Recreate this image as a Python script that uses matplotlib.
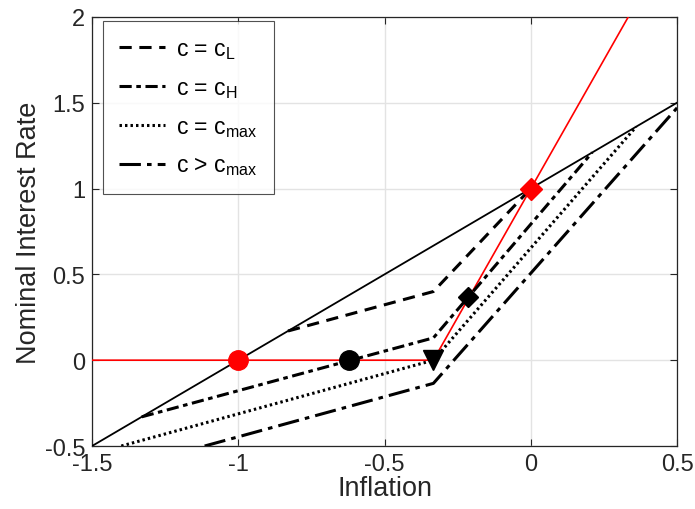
import matplotlib
matplotlib.use("Agg")
import matplotlib.pyplot as plt

plt.rcParams['font.family'] = ['Liberation Sans', 'DejaVu Sans']
plt.rcParams['mathtext.fontset'] = 'custom'
plt.rcParams['mathtext.rm'] = 'Liberation Sans'
plt.rcParams['mathtext.it'] = 'Liberation Sans'

# Data
solid_x = [-1.5, 0.5]
solid_y = [-0.5, 1.5]
red_x = [-1.5, -0.333, 0.4]
red_y = [0.0, 0.0, 2.2]
cL_x = [-0.83, -0.333, 0.0]
cL_y = [0.17, 0.40, 1.0]
cH_x = [-1.33, -0.333, 0.21]
cH_y = [-0.33, 0.13, 1.21]
cmax_x = [-1.40, -0.333, 0.36]
cmax_y = [-0.5, 0.0, 1.36]
cgt_x = [-1.115, -0.333, 0.5]
cgt_y = [-0.5, -0.135, 1.47]

xticks = [-1.5, -1, -0.5, 0, 0.5]
xticklabels = ['-1.5', '-1', '-0.5', '0', '0.5']
yticks = [-0.5, 0, 0.5, 1, 1.5, 2]
yticklabels = ['-0.5', '0', '0.5', '1', '1.5', '2']

fig = plt.figure(figsize=(6.95, 5.10), dpi=100)
ax = fig.add_axes([0.1324, 0.1235, 0.8418, 0.8415])

ax.plot(solid_x, solid_y, color='black', lw=1.3, zorder=3)
ax.plot(red_x, red_y, color='red', lw=1.2, zorder=3)
lL, = ax.plot(cL_x, cL_y, color='black', lw=2.2, linestyle=(0, (4, 2.5)), label='c = c$_\\mathregular{L}$', zorder=3)
lH, = ax.plot(cH_x, cH_y, color='black', lw=2.2, linestyle=(0, (4, 1.5, 1.5, 1.5)), label='c = c$_\\mathregular{H}$', zorder=3)
lM, = ax.plot(cmax_x, cmax_y, color='black', lw=2.2, linestyle=(0, (0.8, 1.0)), label='c = c$_\\mathregular{max}$', zorder=3)
lG, = ax.plot(cgt_x, cgt_y, color='black', lw=2.2, linestyle=(0, (7, 2, 1.5, 2)), label='c > c$_\\mathregular{max}$', zorder=3)

ax.plot([-1], [0], 'o', color='red', markersize=14, zorder=5)
ax.plot([-0.62], [0], 'o', color='black', markersize=14, zorder=5)
ax.plot([-0.333], [0], 'v', color='black', markersize=15, zorder=5)
ax.plot([-0.215], [0.37], 'D', color='black', markersize=10, zorder=5)
ax.plot([0], [1], 'D', color='red', markersize=11, zorder=5)

ax.set_xlim(-1.5, 0.5)
ax.set_ylim(-0.5, 2)
ax.set_xticks(xticks)
ax.set_xticklabels(xticklabels)
ax.set_yticks(yticks)
ax.set_yticklabels(yticklabels)
ax.grid(True, color='#e3e3e3', lw=1.0, zorder=0)
ax.set_axisbelow(True)
ax.tick_params(direction='in', length=5, width=0.8, top=True, right=True,
               labelsize=17, colors='#262626', pad=5)
for s in ax.spines.values():
    s.set_color('#262626')
    s.set_linewidth(0.9)

ax.set_xlabel('Inflation', fontsize=19.5, color='#262626', labelpad=0)
ax.set_ylabel('Nominal Interest Rate', fontsize=19.5, color='#262626', labelpad=2)

leg = ax.legend(handles=[lL, lH, lM, lG], loc='upper left', bbox_to_anchor=(0.019, 0.99),
                fontsize=16.5, frameon=True, fancybox=False, edgecolor='#262626',
                handlelength=2.0, handletextpad=0.5, labelspacing=0.65, borderpad=0.7,
                borderaxespad=0)
leg.get_frame().set_linewidth(0.8)

fig.savefig('out.png', dpi=100)
